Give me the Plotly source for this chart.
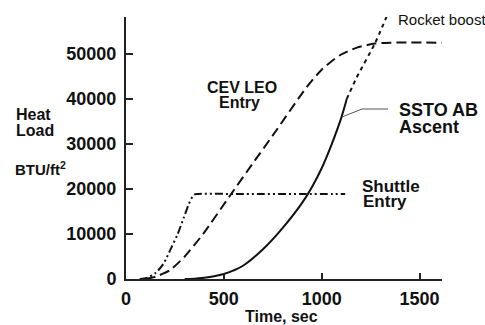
import plotly.graph_objects as go

# ---- data ----
shuttle_t = [70, 110, 150, 190, 230, 264, 295, 320, 340, 355, 372, 600, 900, 1120]
shuttle_v = [0, 300, 1300, 3300, 6800, 10000, 13600, 16500, 18300, 18850, 18900, 18900, 18900, 18900]

cev_t = [100, 150, 223, 300, 394, 531, 645, 752, 923, 1000, 1093, 1180, 1272, 1350, 1614]
cev_v = [0, 500, 1900, 5000, 10000, 18500, 25500, 32000, 42600, 46500, 49700, 51400, 52300, 52500, 52500]

ssto_t = [300, 350, 400, 450, 500, 550, 600, 700, 800, 900, 950, 1000, 1050, 1100, 1128]
ssto_v = [0, 80, 300, 620, 1100, 1900, 3000, 6600, 11300, 16900, 20400, 24600, 29800, 35800, 40000]

boost_t = [1128, 1179, 1272, 1333]
boost_v = [40000, 44800, 52300, 58400]

x_ticks = [0, 500, 1000, 1500]
y_ticks = [0, 10000, 20000, 30000, 40000, 50000]

X_RANGE = [0, 1615]
Y_RANGE = [0, 58200]

# plot area in pixels
L, R, T, B = 126, 43, 17, 46
W, H = 485, 325
pw, ph = W - L - R, H - T - B


def px(x, y):
    """pixel position -> paper coordinates (for text placement)"""
    return (x - L) / pw, (H - B - y) / ph


fig = go.Figure()
ink = "#111111"
fig.add_trace(go.Scatter(x=shuttle_t, y=shuttle_v, mode="lines",
                         line=dict(color=ink, width=2, dash="8px,3px,2px,3px,2px,3px", shape="spline", smoothing=0.8),
                         cliponaxis=False))
fig.add_trace(go.Scatter(x=cev_t, y=cev_v, mode="lines",
                         line=dict(color=ink, width=2, dash="10px,5px", shape="spline", smoothing=0.6),
                         cliponaxis=False))
fig.add_trace(go.Scatter(x=ssto_t, y=ssto_v, mode="lines",
                         line=dict(color=ink, width=2, shape="spline", smoothing=1.0),
                         cliponaxis=False))
fig.add_trace(go.Scatter(x=boost_t, y=boost_v, mode="lines",
                         line=dict(color=ink, width=2, dash="4px,4px", shape="spline", smoothing=0.5),
                         cliponaxis=False))

# leader line for SSTO label
p0 = px(342, 117)
p1 = px(362, 109)
p2 = px(388, 109)
fig.add_shape(type="path", xref="paper", yref="paper",
              path=f"M {p0[0]} {p0[1]} L {p1[0]} {p1[1]} L {p2[0]} {p2[1]}",
              line=dict(color="#555555", width=1))

bold = dict(family="Liberation Sans, Arial", color=ink, weight="bold")


def label(text, x, y, size, xanchor="center", weight="bold"):
    xx, yy = px(x, y)
    f = dict(family="Liberation Sans, Arial", color=ink, size=size, weight=weight)
    fig.add_annotation(text=text, x=xx, y=yy, xref="paper", yref="paper",
                       xanchor=xanchor, yanchor="middle", showarrow=False, font=f)


label("Heat", 14, 114, 16, "left")
label("Load", 14, 130, 16, "left")
label("BTU/ft<sup>2</sup>", 13, 168, 15, "left")
label("Time, sec", 281, 316, 16)
label("CEV LEO", 242, 88, 16)
label("Entry", 239, 102, 16)
label("SSTO AB", 397, 110, 18, "left")
label("Ascent", 397, 127, 18, "left")
label("Shuttle", 391, 186, 17)
label("Entry", 385, 201, 17)
label("Rocket boost", 396, 20, 15, "left", weight="normal")

axis_common = dict(showline=True, linewidth=2, linecolor="#222222", showgrid=False, zeroline=False,
                   ticks="inside", tickcolor="#222222", tickwidth=1.5,
                   tickfont=dict(size=18, **bold))
fig.update_xaxes(range=X_RANGE, tickvals=x_ticks, ticktext=[str(v) for v in x_ticks],
                 ticklen=6, ticklabelstandoff=2, **axis_common)
fig.update_yaxes(range=Y_RANGE, tickvals=y_ticks, ticktext=[str(v) for v in y_ticks],
                 ticklen=7, ticklabelstandoff=4, **axis_common)

fig.update_layout(width=W, height=H, margin=dict(l=L, r=R, t=T, b=B),
                  paper_bgcolor="white", plot_bgcolor="white", showlegend=False)

fig.write_html("out.html")
